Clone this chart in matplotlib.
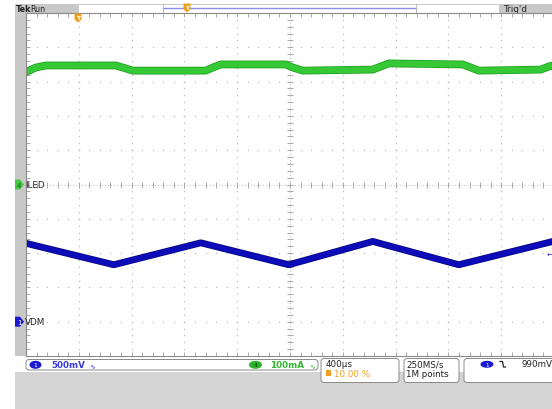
import numpy as np
import matplotlib
matplotlib.use("Agg")
import matplotlib.pyplot as plt
from matplotlib.patches import Rectangle, FancyBboxPatch, Polygon, Ellipse
import matplotlib.patheffects as pe

# ---- data ----
time_blue_us = [-394, 265, 924, 1591, 2227, 2879, 3591]
vdm_V = [1.14, 0.83, 1.15, 0.83, 1.17, 0.83, 1.17]

time_green_us = [-394, -326, -250, 280, 333, 409, 962, 1015, 1076, 1568, 1621, 1697,
                 2227, 2288, 2348, 2909, 2970, 3030, 3500, 3561, 3591]
iled_mA = [329, 341, 347, 347, 341, 332, 332, 341, 350, 350, 341, 332,
           335, 344, 353, 350, 341, 332, 335, 344, 347]

ch1_label = "VDM"
ch4_label = "ILED"
ch1_scale_V = 0.5       # V/div
ch1_pos_div = -4.0
ch4_scale_mA = 100.0    # mA/div
ch4_pos_div = 0.0
time_scale_us = 400.0   # us/div
trigger_pct = 10.0
trigger_level = "990mV"
sample_rate = "250MS/s"
record_len = "1M points"

W, H = 552, 410
fig = plt.figure(figsize=(W / 100, H / 100), dpi=100)
fig.patch.set_facecolor("white")

# background overlay (pixel coordinates)
bg = fig.add_axes([0, 0, 1, 1], zorder=0)
bg.set_xlim(0, W); bg.set_ylim(H, 0); bg.axis("off")
bg.add_patch(Rectangle((15, 373), W - 15, H - 373, color="#d4d4d4", lw=0))
bg.add_patch(Rectangle((15, 5), 11, 352, color="#c8c8c8", lw=0))
# top bar
bg.add_patch(Rectangle((15, 5), 63, 9, color="#c8c8c8", lw=0))
bg.add_patch(Rectangle((78, 5), 421, 9, facecolor="white", edgecolor="#c0c0c0", lw=0.6))
bg.add_patch(Rectangle((499, 5), W - 499, 9, color="#c8c8c8", lw=0))
bg.plot([163, 416], [8.5, 8.5], color="#8c8ce6", lw=1.0)
bg.plot([163, 163], [5, 14], color="#b0b0b0", lw=0.6)
bg.plot([416, 416], [5, 14], color="#b0b0b0", lw=0.6)
bg.text(15.5, 9.5, "Tek", fontsize=5.8, fontweight="bold", va="center", ha="left", color="#222222")
bg.text(30.5, 9.5, "Run", fontsize=5.8, va="center", ha="left", color="#222222")
bg.text(503, 9.5, "Trig'd", fontsize=6.3, va="center", ha="left", color="#222222")

# ---- graticule axes ----
x0px, x1px = 26, 26 + 528
y0px, y1px = 14, 357
ax = fig.add_axes([x0px / W, 1 - y1px / H, (x1px - x0px) / W, (y1px - y0px) / H], zorder=1)
ax.set_facecolor("white")
t_left = -time_scale_us * trigger_pct / 10.0
ax.set_xlim(t_left, t_left + 10 * time_scale_us)
ax.set_ylim(-5, 5)
for s in ax.spines.values():
    s.set_color("#8a8a8a"); s.set_linewidth(0.8)
minor_x = np.arange(t_left, t_left + 10 * time_scale_us + 1, time_scale_us / 5)
minor_y = np.arange(-5, 5.01, 0.2)
ax.set_xticks(minor_x); ax.set_yticks(minor_y)
ax.tick_params(direction="in", length=3, width=0.6, color="#9a9a9a",
               top=True, bottom=True, left=True, right=False,
               labelbottom=False, labelleft=False)

# dotted division lines
tc = t_left + 5 * time_scale_us
for k in range(1, 10):
    tx = t_left + k * time_scale_us
    if abs(tx - tc) < 1e-6:
        continue
    ax.plot(np.full_like(minor_y, tx), minor_y, ls="none", marker="s", ms=0.9,
            color="#bdbdbd", mew=0)
for k in range(-4, 5):
    if k == 0:
        continue
    ax.plot(minor_x, np.full_like(minor_x, k), ls="none", marker="s", ms=0.9,
            color="#bdbdbd", mew=0)
# center cross
ax.axhline(0, color="#bdbdbd", lw=0.7, ls=(0, (1, 2)))
ax.axvline(tc, color="#bdbdbd", lw=0.7, ls=(0, (1, 2)))
ax.plot(minor_x, np.zeros_like(minor_x), ls="none", marker="|", ms=4, mew=0.7, color="#a8a8a8")
ax.plot(np.full_like(minor_y, tc), minor_y, ls="none", marker="_", ms=4, mew=0.7, color="#a8a8a8")

# traces
blue_div = np.array(vdm_V) / ch1_scale_V + ch1_pos_div
green_div = np.array(iled_mA) / ch4_scale_mA + ch4_pos_div
ax.plot(time_green_us, green_div, color="#35c935", lw=4.5, solid_joinstyle="round",
        path_effects=[pe.Stroke(linewidth=5.6, foreground="#1e9e1e"), pe.Normal()])
ax.plot(time_blue_us, blue_div, color="#0c0cb8", lw=3.9, solid_joinstyle="round",
        path_effects=[pe.Stroke(linewidth=4.9, foreground="#06067a"), pe.Normal()])

# ---- foreground overlay ----
fg = fig.add_axes([0, 0, 1, 1], zorder=2)
fg.patch.set_alpha(0)
fg.set_xlim(0, W); fg.set_ylim(H, 0); fg.axis("off")

# trigger markers
def tmark(x, ytop):
    fg.add_patch(Polygon([[x - 3.5, ytop], [x + 3.5, ytop], [x + 3.5, ytop + 6],
                          [x, ytop + 9], [x - 3.5, ytop + 6]], closed=True,
                         color="#f0a020", lw=0))
    fg.text(x, ytop + 4, "T", fontsize=4.5, ha="center", va="center", color="white",
            fontweight="bold")
tmark(78, 14.5)
tmark(187, 4.5)

# channel ground markers
def chmark(y, col, num, label, numcol):
    fg.add_patch(Polygon([[15, y - 5], [20, y - 5], [24, y], [20, y + 5], [15, y + 5]],
                         closed=True, color=col, lw=0))
    fg.text(19, y + 0.3, num, fontsize=5, ha="center", va="center", color=numcol)
    fg.text(25, y, label, fontsize=6.3, ha="left", va="center", color="#222222")
y_center = (y0px + y1px) / 2
div_px = (y1px - y0px) / 10
chmark(y_center - ch4_pos_div * div_px, "#44c844", "4", ch4_label, "#1a5a1a")
chmark(y_center - ch1_pos_div * div_px, "#1a1ad0", "1", ch1_label, "white")
# trigger level arrow at right
fg.text(550, 256, "\u2190", fontsize=5, ha="center", va="center", color="#2020d0")

# status bar
def box(x, y, w, h):
    fg.add_patch(FancyBboxPatch((x, y), w, h, boxstyle="round,pad=0,rounding_size=3",
                                facecolor="white", edgecolor="#8a8a8a", lw=0.7))
box(26, 360.5, 292, 10.5)
box(321, 359.5, 78, 24)
box(404, 359.5, 55, 24)
box(464, 359.5, 95, 24)

blue_t = "#3a3ad8"
green_t = "#33b833"
fg.add_patch(Ellipse((35.5, 365.8), 12, 8, color="#1a1ad0", lw=0))
fg.text(35.5, 366, "1", fontsize=4.5, ha="center", va="center", color="white")
fg.text(51, 366, "500mV", fontsize=6.3, ha="left", va="center", color=blue_t, fontweight="bold")
fg.text(92, 366, "\u223f", fontsize=5, ha="center", va="center", color=blue_t)
fg.add_patch(Ellipse((255.5, 365.8), 13, 8, color="#2db42d", lw=0))
fg.text(255.5, 366, "4", fontsize=4.5, ha="center", va="center", color="#0e3e0e")
fg.text(270, 366, "100mA", fontsize=6.3, ha="left", va="center", color=green_t, fontweight="bold")
fg.text(312, 366, "\u223f", fontsize=5, ha="center", va="center", color=green_t)

fg.text(326, 365, "400\u00b5s", fontsize=6.3, ha="left", va="center", color="#222222")
fg.add_patch(Rectangle((325.5, 371), 5.5, 6, color="#f0a020", lw=0))
fg.text(334, 374.5, f"{trigger_pct:.2f} %", fontsize=6.3, ha="left", va="center", color="#f0a020")
fg.text(406, 365, sample_rate, fontsize=6.3, ha="left", va="center", color="#222222")
fg.text(406, 374.5, record_len, fontsize=6.3, ha="left", va="center", color="#222222")
fg.add_patch(Ellipse((487, 365.3), 13, 7, color="#1a1ad0", lw=0))
fg.text(487, 365.5, "1", fontsize=4, ha="center", va="center", color="white")
fg.plot([500, 502.5, 503.5, 505.5], [362.5, 362.5, 368, 368], color="#222222", lw=0.9)
fg.text(522, 365, trigger_level, fontsize=6.3, ha="left", va="center", color="#222222")

fig.savefig("out.png", dpi=100)
